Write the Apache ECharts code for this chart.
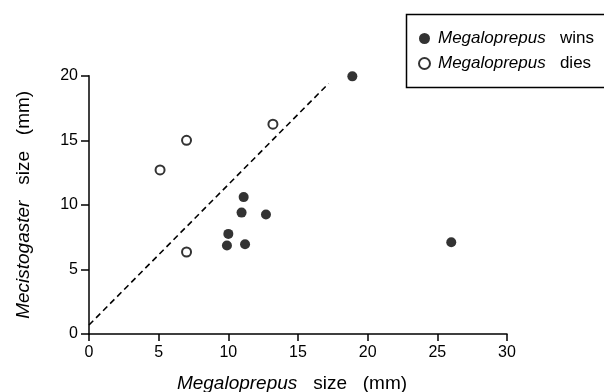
<!DOCTYPE html>
<html>
<head>
<meta charset="utf-8">
<script src="https://cdn.jsdelivr.net/npm/echarts@6/dist/echarts.min.js"></script>
<style>html,body{margin:0;padding:0;background:#fff;}#c{width:604px;height:392px;}</style>
</head>
<body>
<div id="c"></div>
<script>
const winsX = [18.9, 11.1, 10.95, 12.7, 10.0, 9.9, 11.2, 26.0];
const winsY = [19.95, 10.6, 9.4, 9.25, 7.75, 6.85, 6.95, 7.1];
const diesX = [13.2, 7.0, 5.1, 7.0];
const diesY = [16.25, 15.0, 12.7, 6.35];
const lineX = [0, 17.2];
const lineY = [0.7, 19.4];
const xTicks = [0, 5, 10, 15, 20, 25, 30];
const yTicks = [0, 5, 10, 15, 20];

const font = '"Liberation Sans", Arial, Helvetica, sans-serif';
const chart = echarts.init(document.getElementById('c'));
const zip = (a, b) => a.map((v, i) => [v, b[i]]);

chart.setOption({
  animation: false,
  backgroundColor: '#fff',
  textStyle: { fontFamily: font, color: '#000' },
  grid: { left: 89, right: 97, top: 75.7, bottom: 58, containLabel: false, outerBoundsMode: 'none' },
  xAxis: {
    type: 'value', min: xTicks[0], max: xTicks[xTicks.length - 1], interval: 5,
    splitLine: { show: false },
    axisLine: { lineStyle: { color: '#000', width: 1.5 } },
    axisTick: { show: true, length: 7, lineStyle: { color: '#000', width: 1.5 } },
    axisLabel: { color: '#000', fontSize: 16, margin: 11, fontFamily: font },
    name: '{i|Megaloprepus}   size   (mm)',
    nameLocation: 'middle', nameGap: 40,
    nameTextStyle: {
      color: '#000', fontSize: 19, fontFamily: font,
      padding: [0, 12, 0, 0],
      rich: { i: { fontStyle: 'italic', fontSize: 19, fontFamily: font, color: '#000' } }
    }
  },
  yAxis: {
    type: 'value', min: yTicks[0], max: yTicks[yTicks.length - 1], interval: 5,
    splitLine: { show: false },
    axisLine: { lineStyle: { color: '#000', width: 1.5 } },
    axisTick: { show: true, length: 8, lineStyle: { color: '#000', width: 1.5 } },
    axisLabel: { color: '#000', fontSize: 16, margin: 11, fontFamily: font },
    name: '{i|Mecistogaster}   size   (mm)',
    nameLocation: 'middle', nameGap: 56, nameRotate: 90,
    nameTextStyle: {
      color: '#000', fontSize: 19, fontFamily: font,
      rich: { i: { fontStyle: 'italic', fontSize: 19, fontFamily: font, color: '#000' } }
    }
  },
  legend: {
    orient: 'vertical', left: 413, top: 25, itemWidth: 11, itemHeight: 11, itemGap: 8,
    data: ['Megaloprepus wins', 'Megaloprepus dies'],
    formatter: n => '{i|Megaloprepus}   ' + n.split(' ')[1],
    textStyle: {
      color: '#000', fontSize: 17, fontFamily: font, padding: [0, 0, 0, 3],
      rich: { i: { fontStyle: 'italic', fontSize: 17, fontFamily: font, color: '#000' } }
    }
  },
  graphic: [{
    type: 'rect', left: 404, top: 12,
    shape: { width: 199, height: 73 },
    style: { fill: 'none', stroke: '#000', lineWidth: 1.5 }
  }],
  series: [
    {
      name: 'Megaloprepus wins', type: 'scatter', symbol: 'circle', symbolSize: 10,
      itemStyle: { color: '#000' },
      data: zip(winsX, winsY)
    },
    {
      name: 'Megaloprepus dies', type: 'scatter', symbol: 'emptyCircle', symbolSize: 9,
      itemStyle: { color: '#000', borderColor: '#000', borderWidth: 1.8 },
      data: zip(diesX, diesY)
    },
    {
      name: 'line', type: 'line', showSymbol: false, symbol: 'none',
      lineStyle: { color: '#000', width: 1.6, type: [6, 4] },
      data: zip(lineX, lineY), silent: true
    }
  ]
});
</script>
</body>
</html>
